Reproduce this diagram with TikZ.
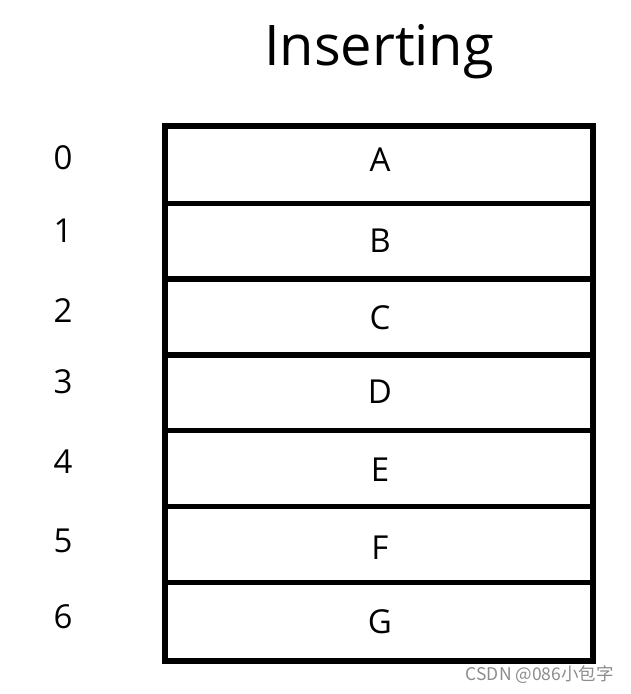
\documentclass[tikz,border=0pt]{standalone}
\usepackage{fontspec}
\setmainfont{Open Sans}
\newfontfamily\cjk{Noto Sans CJK SC}
\usepackage{tikz}

\tikzset{
	frame/.style={line width=5.5pt, line cap=rect},
	cell/.style={inner sep=0pt, font=\fontsize{33}{40}\selectfont},
	idx/.style={inner sep=0pt, font=\fontsize{33}{40}\selectfont},
	heading/.style={inner sep=0pt, anchor=base, font=\fontsize{56}{66}\selectfont}
}

\begin{document}
\begin{tikzpicture}[x=1pt,y=-1pt]
			\useasboundingbox (0,0) rectangle (630,694);
			\node[heading] (title) at (379,65) {Inserting};
			\draw[frame] (165,126) rectangle (593,661);
			\foreach \y in {203.5,279,355,430.5,506.5,582.5}
				\draw[frame] (165,\y) -- (593,\y);
			\foreach \c/\y in {A/160,B/241,C/318,D/392,E/470,F/548,G/622}
				\node[cell] (cell\c) at (380,\y) {\c};
			\foreach \d/\y in {0/158,1/231,2/311,3/382,4/462,5/541,6/617}
				\node[idx] (idx\d) at (63,\y) {\d};
			\node[anchor=east, inner sep=0pt, text=black!45, font=\cjk\fontsize{17.5}{20}\selectfont] (wm) at (614,675) {CSDN @086小包字};
		\end{tikzpicture}
\end{document}
